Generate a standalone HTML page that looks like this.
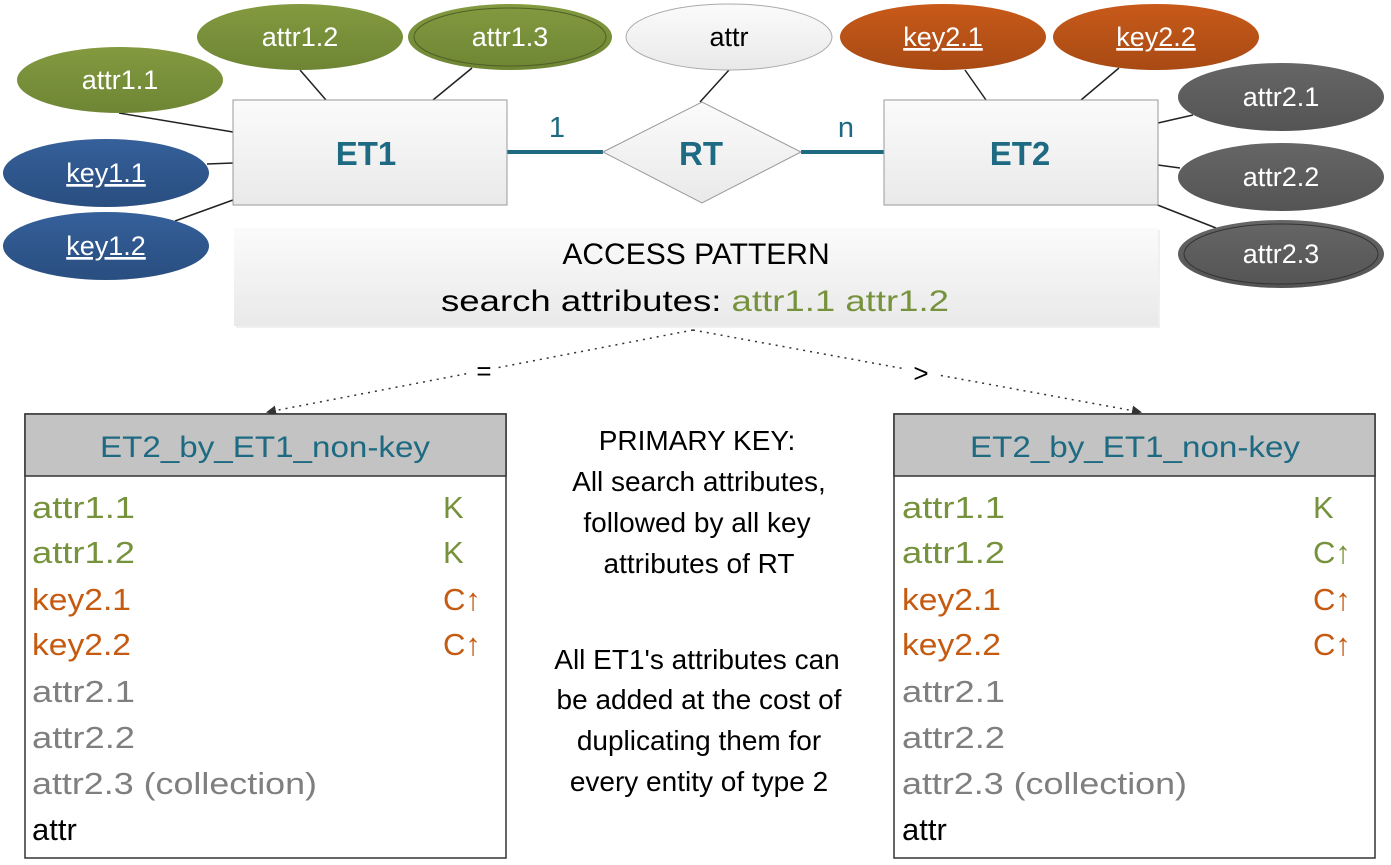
<!DOCTYPE html>
<html><head><meta charset="utf-8"><style>
html,body{margin:0;padding:0;background:#fff;}
svg{display:block;font-family:"Liberation Sans",sans-serif;}
</style></head><body>
<svg width="1391" height="865" viewBox="0 0 1391 865" xmlns="http://www.w3.org/2000/svg">
<defs>
<linearGradient id="gw" x1="0" y1="0" x2="0" y2="1"><stop offset="0" stop-color="#fbfbfb"/><stop offset="1" stop-color="#e9e9e9"/></linearGradient>
<linearGradient id="gg" x1="0" y1="0" x2="0" y2="1"><stop offset="0" stop-color="#839a40"/><stop offset="1" stop-color="#6e8534"/></linearGradient>
<linearGradient id="gb" x1="0" y1="0" x2="0" y2="1"><stop offset="0" stop-color="#35609a"/><stop offset="1" stop-color="#294e80"/></linearGradient>
<linearGradient id="go" x1="0" y1="0" x2="0" y2="1"><stop offset="0" stop-color="#c85a1a"/><stop offset="1" stop-color="#a84a14"/></linearGradient>
<linearGradient id="gd" x1="0" y1="0" x2="0" y2="1"><stop offset="0" stop-color="#666"/><stop offset="1" stop-color="#545454"/></linearGradient>
<marker id="ar" markerWidth="10" markerHeight="10" refX="8" refY="5" orient="auto" markerUnits="userSpaceOnUse"><path d="M0,0 L10,5 L0,10 z" fill="#333"/></marker>
</defs>
<g stroke="#222" stroke-width="1.5">
<line x1="119" y1="113" x2="233" y2="132"/>
<line x1="300" y1="70" x2="326" y2="100"/>
<line x1="472" y1="68" x2="433" y2="100"/>
<line x1="207" y1="164" x2="233" y2="163"/>
<line x1="175" y1="221" x2="233" y2="200"/>
<line x1="729" y1="70" x2="700" y2="102"/>
<line x1="965" y1="70" x2="986" y2="100"/>
<line x1="1119" y1="68" x2="1081" y2="100"/>
<line x1="1193" y1="115" x2="1158" y2="123"/>
<line x1="1158" y1="165" x2="1180" y2="168"/>
<line x1="1155" y1="204" x2="1216" y2="228"/>
</g>
<g stroke="#1d6a82" stroke-width="4">
<line x1="507" y1="152" x2="603" y2="152"/>
<line x1="801" y1="152" x2="884" y2="152"/>
</g>
<ellipse cx="120" cy="80" rx="103" ry="33" fill="url(#gg)"/>
<ellipse cx="300" cy="37" rx="103" ry="33" fill="url(#gg)"/>
<ellipse cx="510" cy="37" rx="102" ry="33" fill="url(#gg)"/>
<ellipse cx="510" cy="37" rx="96" ry="29" fill="none" stroke="#4f5f25" stroke-width="1"/>
<ellipse cx="106" cy="173" rx="103" ry="34" fill="url(#gb)"/>
<ellipse cx="106" cy="246" rx="103" ry="34" fill="url(#gb)"/>
<ellipse cx="729" cy="37" rx="103" ry="33" fill="url(#gw)" stroke="#aaa"/>
<ellipse cx="943" cy="37" rx="103" ry="33" fill="url(#go)"/>
<ellipse cx="1156" cy="37" rx="103" ry="33" fill="url(#go)"/>
<ellipse cx="1281" cy="97" rx="103" ry="34" fill="url(#gd)"/>
<ellipse cx="1281" cy="177" rx="103" ry="34" fill="url(#gd)"/>
<ellipse cx="1281" cy="254" rx="103" ry="34" fill="url(#gd)"/>
<ellipse cx="1281" cy="254" rx="97" ry="30" fill="none" stroke="#333" stroke-width="1"/>
<g font-size="27" fill="#fff" text-anchor="middle">
<text x="120" y="89">attr1.1</text>
<text x="300" y="46">attr1.2</text>
<text x="510" y="46">attr1.3</text>
<text x="106" y="182" text-decoration="underline">key1.1</text>
<text x="106" y="255" text-decoration="underline">key1.2</text>
<text x="943" y="46" text-decoration="underline">key2.1</text>
<text x="1156" y="46" text-decoration="underline">key2.2</text>
<text x="1281" y="106">attr2.1</text>
<text x="1281" y="186">attr2.2</text>
<text x="1281" y="263">attr2.3</text>
<text x="729" y="46" fill="#000">attr</text>
</g>
<rect x="233" y="100" width="274" height="105" fill="url(#gw)" stroke="#999"/>
<rect x="884" y="100" width="274" height="105" fill="url(#gw)" stroke="#999"/>
<polygon points="603,152 702,102 801,152 702,203" fill="url(#gw)" stroke="#999"/>
<g font-size="33" font-weight="bold" fill="#1d6a82" text-anchor="middle">
<text x="366" y="165">ET1</text>
<text x="1020" y="165">ET2</text>
<text x="701" y="165">RT</text>
</g>
<g font-size="29" fill="#1d6a82" text-anchor="middle">
<text x="557" y="137">1</text>
<text x="846" y="137">n</text>
</g>
<rect x="236" y="230" width="924" height="98" fill="#000" opacity="0.06"/>
<rect x="234" y="228" width="924" height="98" fill="url(#gw)"/>
<g font-size="30" text-anchor="middle">
<text x="696" y="264" fill="#000">ACCESS PATTERN</text>
<text x="695" y="311" fill="#000" textLength="508" lengthAdjust="spacingAndGlyphs">search attributes: <tspan fill="#76923c">attr1.1  attr1.2</tspan></text>
</g>
<g stroke="#333" stroke-width="1.5" stroke-dasharray="2,5" fill="none">
<line x1="693" y1="330" x2="268" y2="412" marker-end="url(#ar)"/>
<line x1="693" y1="330" x2="1140" y2="412" marker-end="url(#ar)"/>
</g>
<rect x="470" y="356" width="28" height="26" fill="#fff"/>
<rect x="906" y="358" width="30" height="26" fill="#fff"/>
<text x="484" y="380" font-size="26" text-anchor="middle">=</text>
<text x="921" y="382" font-size="26" text-anchor="middle">&gt;</text>
<rect x="25" y="414" width="481" height="444" fill="#fff" stroke="#333" stroke-width="1.5"/>
<rect x="25" y="414" width="481" height="62" fill="#c3c3c3" stroke="#333" stroke-width="1.5"/>
<rect x="894" y="414" width="481" height="444" fill="#fff" stroke="#333" stroke-width="1.5"/>
<rect x="894" y="414" width="481" height="62" fill="#c3c3c3" stroke="#333" stroke-width="1.5"/>
<g font-size="30" fill="#1d6a82" text-anchor="middle">
<text x="265" y="457" textLength="330" lengthAdjust="spacingAndGlyphs">ET2_by_ET1_non-key</text>
<text x="1135" y="457" textLength="330" lengthAdjust="spacingAndGlyphs">ET2_by_ET1_non-key</text>
</g>
<g font-size="31">
<g fill="#76923c"><text x="32" y="518" textLength="103" lengthAdjust="spacingAndGlyphs">attr1.1</text><text x="32" y="563" textLength="103" lengthAdjust="spacingAndGlyphs">attr1.2</text>
<text x="902" y="518" textLength="103" lengthAdjust="spacingAndGlyphs">attr1.1</text><text x="902" y="563" textLength="103" lengthAdjust="spacingAndGlyphs">attr1.2</text>
<text x="443" y="518">K</text><text x="443" y="563">K</text>
<text x="1313" y="518">K</text><text x="1313" y="563">C↑</text></g>
<g fill="#c55a11"><text x="32" y="610" textLength="99" lengthAdjust="spacingAndGlyphs">key2.1</text><text x="32" y="655" textLength="99" lengthAdjust="spacingAndGlyphs">key2.2</text>
<text x="902" y="610" textLength="99" lengthAdjust="spacingAndGlyphs">key2.1</text><text x="902" y="655" textLength="99" lengthAdjust="spacingAndGlyphs">key2.2</text>
<text x="443" y="610">C↑</text><text x="443" y="655">C↑</text>
<text x="1313" y="610">C↑</text><text x="1313" y="655">C↑</text></g>
<g fill="#7f7f7f"><text x="32" y="702" textLength="103" lengthAdjust="spacingAndGlyphs">attr2.1</text><text x="32" y="748" textLength="103" lengthAdjust="spacingAndGlyphs">attr2.2</text><text x="32" y="794" textLength="285" lengthAdjust="spacingAndGlyphs">attr2.3 (collection)</text>
<text x="902" y="702" textLength="103" lengthAdjust="spacingAndGlyphs">attr2.1</text><text x="902" y="748" textLength="103" lengthAdjust="spacingAndGlyphs">attr2.2</text><text x="902" y="794" textLength="285" lengthAdjust="spacingAndGlyphs">attr2.3 (collection)</text></g>
<g fill="#000"><text x="32" y="840">attr</text><text x="902" y="840">attr</text></g>
</g>
<g font-size="28" text-anchor="middle" fill="#000">
<text x="697" y="450">PRIMARY KEY:</text>
<text x="699" y="491">All search attributes,</text>
<text x="697" y="532">followed by all key</text>
<text x="699" y="573">attributes of RT</text>
<text x="697" y="669">All ET1's attributes can</text>
<text x="699" y="709">be added at the cost of</text>
<text x="699" y="750">duplicating them for</text>
<text x="699" y="791">every entity of type 2</text>
</g>
</svg>
</body></html>
